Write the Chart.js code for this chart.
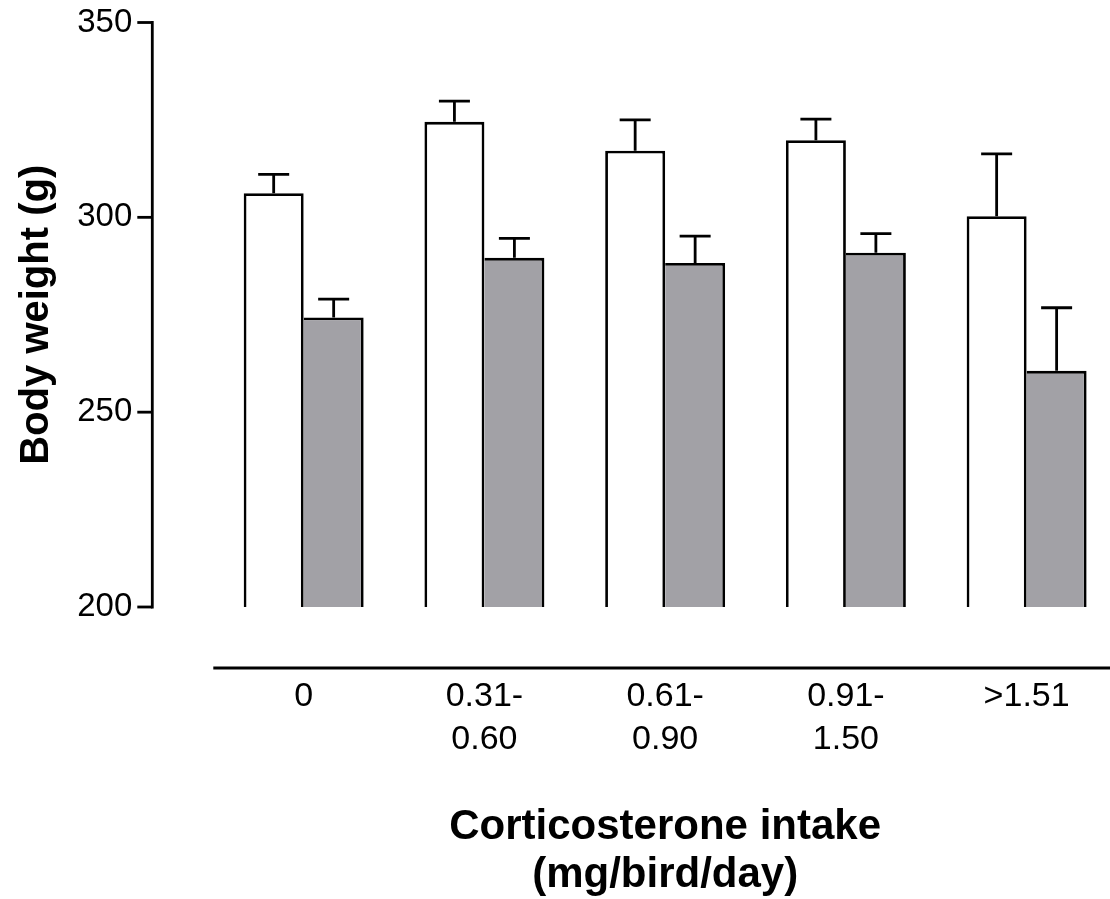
<!DOCTYPE html>
<html>
<head>
<meta charset="utf-8">
<script src="https://cdn.jsdelivr.net/npm/chart.js@4.4.1/dist/chart.umd.min.js"></script>
<style>
  html, body { margin: 0; padding: 0; overflow: hidden; background: #fff; }
  #wrap { width: 1118px; height: 899px; position: relative; }
</style>
</head>
<body>
<div id="wrap"><canvas id="myBarChart"></canvas></div>
<script>
// data
var intakeLabels = ["0", ["0.31-", "0.60"], ["0.61-", "0.90"], ["0.91-", "1.50"], ">1.51"];
var whiteMeans = [306.2, 324.5, 317.1, 319.8, 300.3];
var whiteErr   = [4.8, 5.3, 7.9, 5.4, 16.0];
var grayMeans  = [274.3, 289.6, 288.3, 290.9, 260.6];
var grayErr    = [4.7, 5.0, 6.9, 4.9, 16.2];
var yTicks     = [200, 250, 300, 350];

var FONT = "'Liberation Sans', Arial, sans-serif";
var LINE = 2.8;

// offset axes (prism style) + one-sided error bars
var axesAndErrors = {
    id: "axesAndErrors",
    afterDatasetsDraw: function(chart) {
        var ctx = chart.ctx;
        var area = chart.chartArea;
        var y = chart.scales.y;
        var errs = [whiteErr, grayErr];

        ctx.save();
        ctx.strokeStyle = "#000";
        ctx.lineWidth = LINE;
        ctx.lineCap = "butt";

        // error bars
        chart.data.datasets.forEach(function(ds, i) {
            var meta = chart.getDatasetMeta(i);
            meta.data.forEach(function(bar, j) {
                var top = y.getPixelForValue(ds.data[j] + errs[i][j]);
                ctx.beginPath();
                ctx.moveTo(bar.x, bar.y);
                ctx.lineTo(bar.x, top);
                ctx.moveTo(bar.x - 15.5, top);
                ctx.lineTo(bar.x + 15.5, top);
                ctx.stroke();
            });
        });

        // y axis, pulled away from the bars
        var ax = area.left - 61;
        ctx.beginPath();
        ctx.moveTo(ax, y.getPixelForValue(yTicks[yTicks.length - 1]) - LINE / 2);
        ctx.lineTo(ax, y.getPixelForValue(yTicks[0]) + LINE / 2);
        ctx.stroke();
        yTicks.forEach(function(v) {
            var py = y.getPixelForValue(v);
            ctx.beginPath();
            ctx.moveTo(ax - 15, py);
            ctx.lineTo(ax, py);
            ctx.stroke();
        });

        // x axis, dropped below the baseline
        var ay = area.bottom + 61;
        ctx.beginPath();
        ctx.moveTo(area.left, ay);
        ctx.lineTo(chart.width, ay);
        ctx.stroke();
        ctx.restore();
    }
};

var data = {
    labels: intakeLabels,
    datasets: [{
        label: "white",
        data: whiteMeans,
        backgroundColor: "#ffffff",
        borderColor: "#000000",
        borderWidth: LINE,
        borderSkipped: false
    },
    {
        label: "gray",
        data: grayMeans,
        backgroundColor: "#a2a1a6",
        borderColor: "#000000",
        borderWidth: LINE,
        borderSkipped: "left"
    }]
};

var options = {
    responsive: true,
    maintainAspectRatio: false,
    animation: false,
    layout: { padding: { top: 22.5, right: 1, bottom: 0, left: 0 } },
    datasets: {
        bar: { categoryPercentage: 0.6637, barPercentage: 1.0 }
    },
    plugins: {
        legend: { display: false },
        tooltip: { enabled: false }
    },
    scales: {
        x: {
            offset: true,
            grid: { display: false, drawTicks: false },
            border: { display: false },
            ticks: {
                color: "#000",
                padding: 68,
                maxRotation: 0,
                autoSkip: false,
                font: { family: FONT, size: 34, lineHeight: 1.26 }
            },
            title: {
                display: true,
                text: ["Corticosterone intake", "(mg/bird/day)"],
                color: "#000",
                padding: { top: 0, bottom: 0 },
                font: { family: FONT, size: 42, weight: "bold", lineHeight: 1.143 }
            },
            afterFit: function(scale) {
                scale.height = 292;
                scale.paddingLeft = 0;
                scale.paddingRight = 0;
            }
        },
        y: {
            min: 200,
            max: 350,
            grid: { display: false, drawTicks: false },
            border: { display: false },
            ticks: {
                stepSize: 50,
                color: "#000",
                padding: 81,
                font: { family: FONT, size: 33 }
            },
            title: {
                display: true,
                text: "Body weight (g)",
                color: "#000",
                padding: { top: 13, bottom: 0 },
                font: { family: FONT, size: 40, weight: "bold", lineHeight: 1.2 }
            },
            afterFit: function(scale) {
                scale.width = 213.3;
                // tick padding is only for the label gap, not for the plot edges
                scale.paddingTop = 0;
                scale.paddingBottom = 0;
            }
        }
    }
};

var ctx = document.getElementById("myBarChart").getContext("2d");
var chart = new Chart(ctx, {
    type: "bar",
    data: data,
    options: options,
    plugins: [axesAndErrors]
});
</script>
</body>
</html>
